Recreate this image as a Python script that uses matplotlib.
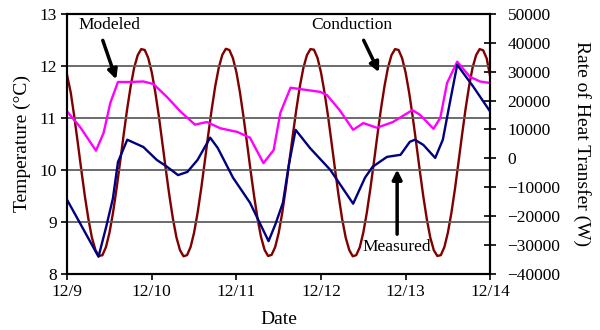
import numpy as np
import matplotlib
matplotlib.use("Agg")
import matplotlib.pyplot as plt

plt.rcParams['font.family'] = ['Liberation Serif', 'DejaVu Serif']
plt.rcParams['font.size'] = 12.5

# days since 12/9 00:00
day_labels = ['12/9', '12/10', '12/11', '12/12', '12/13', '12/14']

# modeled temperature (deg C)
mod_t = [0.00, 0.15, 0.34, 0.43, 0.51, 0.60, 0.74, 0.90, 1.02, 1.18, 1.34, 1.51,
         1.65, 1.81, 2.01, 2.16, 2.32, 2.44, 2.52, 2.64, 2.99, 3.07, 3.22, 3.38,
         3.50, 3.66, 3.85, 4.08, 4.17, 4.33, 4.41, 4.49, 4.61, 4.76, 4.88, 5.00]
mod_temp = [11.12, 10.83, 10.37, 10.71, 11.29, 11.69, 11.69, 11.70, 11.65, 11.40, 11.12, 10.87,
            10.92, 10.80, 10.73, 10.62, 10.13, 10.38, 11.10, 11.58, 11.50, 11.44, 11.15, 10.77,
            10.90, 10.81, 10.92, 11.15, 11.06, 10.79, 11.00, 11.67, 12.08, 11.79, 11.70, 11.67]

# measured temperature (deg C)
meas_t = [0.00, 0.15, 0.37, 0.46, 0.54, 0.60, 0.71, 0.90, 1.06, 1.18, 1.31, 1.42,
          1.54, 1.69, 1.78, 1.96, 2.16, 2.38, 2.46, 2.55, 2.62, 2.70, 2.87, 3.11,
          3.38, 3.52, 3.61, 3.78, 3.94, 4.05, 4.11, 4.21, 4.35, 4.44, 4.53, 4.61,
          4.80, 5.00]
meas_temp = [9.42, 8.98, 8.33, 8.90, 9.45, 10.15, 10.58, 10.44, 10.19, 10.06, 9.90, 9.96,
             10.19, 10.62, 10.42, 9.85, 9.37, 8.63, 8.95, 9.37, 10.10, 10.77, 10.42, 10.00,
             9.35, 9.85, 10.06, 10.25, 10.29, 10.54, 10.58, 10.48, 10.23, 10.58, 11.35, 12.02,
             11.60, 11.12]

# conduction heat transfer (W), hourly
cond_w = [
    28600, 22800, 14500, 5400, -4000, -13000, -20900, -27400, -31700, -33800, -33500, -30700,
    -25700, -18800, -10500, -1400, 8000, 17000, 24900, 31400, 35700, 37800, 37500, 34700,
    29700, 22800, 14600, 5300, -4100, -13000, -21000, -27400, -31800, -33900, -33500, -30700,
    -25700, -18800, -10600, -1400, 8100, 17000, 25000, 31400, 35800, 37900, 37500, 34700,
    29800, 22900, 14500, 5400, -4000, -12900, -20900, -27300, -31700, -33800, -33400, -30700,
    -25800, -18900, -10500, -1300, 8000, 16900, 24900, 31300, 35700, 37800, 37600, 34800,
    29700, 22800, 14600, 5400, -4000, -13000, -21000, -27400, -31700, -33900, -33500, -30800,
    -25700, -18800, -10500, -1400, 8000, 17000, 24900, 31400, 35700, 37800, 37500, 34700,
    29700, 22800, 14500, 5400, -4000, -13000, -20900, -27400, -31800, -33800, -33500, -30700,
    -25700, -18800, -10600, -1400, 8000, 17000, 24900, 31400, 35700, 37800, 37400, 34600,
    28300]
cond_t = np.arange(len(cond_w)) / 24.0

fig, ax = plt.subplots(figsize=(6, 3.3), dpi=100)
fig.subplots_adjust(left=0.112, right=0.817, top=0.958, bottom=0.170)

ax2 = ax.twinx()
ax.set_zorder(ax2.get_zorder() + 1)
ax.patch.set_visible(False)

for yv in [9, 10, 11, 12]:
    ax.axhline(yv, color='#606060', lw=1.3, zorder=0)

ax2.plot(cond_t, cond_w, color='#800000', lw=1.7)
ax.plot(mod_t, mod_temp, color='#FF00FF', lw=1.7)
ax.plot(meas_t, meas_temp, color='#000080', lw=1.7)

ax.set_xlim(0, 5)
ax.set_ylim(8, 13)
ax2.set_ylim(-40000, 50000)
ax.set_xticks(range(6))
ax.set_xticklabels(day_labels)
ax.set_yticks(range(8, 14))
ax2.set_yticks(range(-40000, 50001, 10000))

ax.set_xlabel('Date', fontsize=14, labelpad=8)
ax.set_ylabel('Temperature (°C)', fontsize=14, labelpad=6)
ax2.set_ylabel('Rate of Heat Transfer (W)', fontsize=14, rotation=270, labelpad=22)

for a in (ax, ax2):
    for s in a.spines.values():
        s.set_linewidth(1.5)
ax.tick_params(axis='both', direction='out', length=4, width=1.2)
ax2.tick_params(axis='y', direction='inout', length=9, width=1.2, pad=8)

arrow = dict(arrowstyle='-|>', color='black', lw=2.5, mutation_scale=14)
ax.text(0.50, 12.79, 'Modeled', ha='center', va='center')
ax.annotate('', xy=(0.59, 11.69), xytext=(0.41, 12.54), arrowprops=arrow)
ax.text(3.37, 12.79, 'Conduction', ha='center', va='center')
ax.annotate('', xy=(3.70, 11.83), xytext=(3.49, 12.54), arrowprops=arrow)
ax.text(3.90, 8.52, 'Measured', ha='center', va='center')
ax.annotate('', xy=(3.90, 10.06), xytext=(3.90, 8.71), arrowprops=arrow)

fig.savefig('out.png', dpi=100)
